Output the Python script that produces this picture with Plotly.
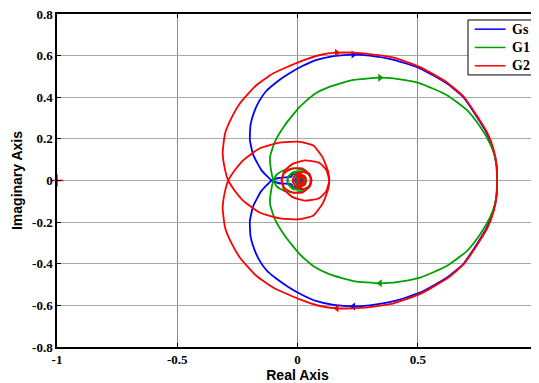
import plotly.graph_objects as go

# ---------------- data ----------------
# Upper-starting branch of each Nyquist curve (real, imag); the other
# branch is its complex conjugate (mirror about the real axis).
gs_re = [0.83, 0.828, 0.814, 0.787, 0.745, 0.69, 0.62, 0.509, 0.40, 0.30, 0.232, 0.15, 0.08, 0.02,
         -0.04, -0.09, -0.13, -0.16, -0.18, -0.195, -0.198, -0.184, -0.15, -0.107,
         -0.08, -0.04, -0.025, -0.02, 0.0, 0.02, 0.028, 0.02, 0.0, -0.01, 0.0, 0.015, 0.01]
gs_im = [0.0, 0.066, 0.147, 0.227, 0.307, 0.40, 0.467, 0.539, 0.58, 0.60, 0.605, 0.598, 0.58, 0.55,
         0.51, 0.47, 0.43, 0.38, 0.33, 0.27, 0.195, 0.123, 0.05, 0.0,
         -0.012, -0.016, -0.018, -0.03, -0.03, -0.02, 0.0, 0.02, 0.022, 0.0, -0.012, -0.005, 0.008]

g1_re = [0.83, 0.828, 0.821, 0.80, 0.759, 0.704, 0.62, 0.509, 0.42, 0.343, 0.232, 0.135, 0.07, 0.01,
         -0.052, -0.094, -0.114, -0.11, -0.1,
         -0.085, -0.055, -0.01, 0.035, 0.055, 0.05, 0.02, -0.02, -0.04, -0.04, -0.02, 0.01, 0.03,
         0.03, 0.015, 0.0, -0.005, 0.005, 0.015]
g1_im = [0.0, 0.06, 0.114, 0.179, 0.259, 0.339, 0.411, 0.467, 0.487, 0.494, 0.483, 0.451, 0.415, 0.355,
         0.267, 0.186, 0.114, 0.05, 0.0,
         -0.03, -0.05, -0.058, -0.045, -0.01, 0.025, 0.045, 0.04, 0.015, -0.015, -0.035, -0.035, -0.015,
         0.01, 0.025, 0.02, 0.0, -0.015, -0.005]

g2_re = [0.83, 0.829, 0.816, 0.79, 0.748, 0.693, 0.623, 0.51, 0.40, 0.274, 0.163, 0.094, 0.01,
         -0.1, -0.17, -0.239, -0.275, -0.301, -0.311, -0.301, -0.288,
         -0.26, -0.225, -0.156, -0.073, 0.01, 0.066, 0.105, 0.128, 0.132,
         0.12, 0.09, 0.03, -0.02, -0.055, -0.066, -0.055, -0.02, 0.02, 0.05, 0.058,
         0.05, 0.025, 0.0, -0.015, -0.02, -0.01, 0.01, 0.03, 0.035, 0.03, 0.01, 0.0, 0.005, 0.02, 0.025, 0.015]
g2_im = [0.0, 0.066, 0.147, 0.227, 0.307, 0.40, 0.47, 0.545, 0.59, 0.611, 0.614, 0.603, 0.571,
         0.515, 0.459, 0.371, 0.3, 0.227, 0.131, 0.05, 0.0,
         -0.05, -0.098, -0.155, -0.182, -0.186, -0.168, -0.11, -0.04, 0.0,
         0.05, 0.085, 0.097, 0.08, 0.045, 0.0, -0.035, -0.058, -0.058, -0.03, 0.0,
         0.03, 0.04, 0.035, 0.015, 0.0, -0.025, -0.03, -0.02, 0.0, 0.02, 0.025, 0.01, -0.01, -0.015, 0.0, 0.012]

# index (in each branch) where the direction arrow sits: (upper, lower)
gs_arrow_idx = (10, 10)
g1_arrow_idx = (9, 9)
g2_arrow_idx = (10, 10)

critical_re = [-1.0]
critical_im = [0.0]

series_names = ["Gs", "G1", "G2"]
series_colors = ["#0000ff", "#00a000", "#ff0000"]

x_ticks = [-1, -0.5, 0, 0.5, 1]
x_ticktext = ["-1", "-0.5", "0", "0.5", "1"]
y_ticks = [-0.8, -0.6, -0.4, -0.2, 0, 0.2, 0.4, 0.6, 0.8]
y_ticktext = ["-0.8", "-0.6", "-0.4", "-0.2", "0", "0.2", "0.4", "0.6", "0.8"]

# ---------------- figure ----------------
fig = go.Figure()

curves = [(gs_re, gs_im, gs_arrow_idx), (g1_re, g1_im, g1_arrow_idx), (g2_re, g2_im, g2_arrow_idx)]

for (re, im, (au, al)), name, col in zip(curves, series_names, series_colors):
    low_im = [-v for v in im]
    fig.add_trace(go.Scatter(x=re, y=im, mode="lines", name=name, showlegend=False,
                             line=dict(color=col, width=1.8, shape="spline", smoothing=0.5)))
    fig.add_trace(go.Scatter(x=re, y=low_im, mode="lines", showlegend=False,
                             line=dict(color=col, width=1.8, shape="spline", smoothing=0.5)))
    fig.add_trace(go.Scatter(x=[re[au]], y=[im[au]], mode="markers", showlegend=False,
                             marker=dict(symbol="triangle-right", size=7, color=col)))
    fig.add_trace(go.Scatter(x=[re[al]], y=[low_im[al]], mode="markers", showlegend=False,
                             marker=dict(symbol="triangle-left", size=7, color=col)))

fig.add_trace(go.Scatter(x=critical_re, y=critical_im, mode="markers", showlegend=False,
                         cliponaxis=False,
                         marker=dict(symbol="cross-thin", size=9, line=dict(color="#ff0000", width=1.5))))

# ---- MATLAB-style legend box (paper coordinates) ----
leg_x0, leg_x1, leg_y0, leg_y1 = 0.8545, 0.998, 0.817, 0.982
fig.add_shape(type="rect", xref="paper", yref="paper", x0=leg_x0, x1=leg_x1, y0=leg_y0, y1=leg_y1,
              line=dict(color="black", width=1), fillcolor="white", layer="above")
row_h = (leg_y1 - leg_y0) / 3
for k, (name, col) in enumerate(zip(series_names, series_colors)):
    yc = leg_y1 - row_h * (k + 0.5)
    fig.add_shape(type="line", xref="paper", yref="paper", x0=leg_x0 + 0.014, x1=leg_x0 + 0.078,
                  y0=yc, y1=yc, line=dict(color=col, width=1.5), layer="above")
    fig.add_annotation(xref="paper", yref="paper", x=leg_x0 + 0.088, y=yc, text=name,
                       showarrow=False, xanchor="left", yanchor="middle",
                       font=dict(family="Liberation Serif", size=14, color="black", weight="bold"))

tickfont = dict(family="Liberation Serif", size=13, color="black", weight="bold")
titlefont = dict(family="Liberation Sans", size=14, color="black", weight="bold")

# the page body adds an 8 px offset; figure is sized so the plot area lands
# at x 57..538, y 14..347 of the window
fig.update_layout(
    width=531, height=375,
    margin=dict(l=49, r=1, t=6, b=36),
    paper_bgcolor="white", plot_bgcolor="white",
    showlegend=False,
    xaxis=dict(range=[-1, 1], tickvals=x_ticks, ticktext=x_ticktext, tickfont=tickfont,
               showgrid=True, gridcolor="#8c8c8c", gridwidth=1, zeroline=False,
               showline=True, linecolor="black", linewidth=1.5, mirror="ticks",
               ticks="inside", ticklen=4, tickcolor="black", ticklabeloverflow="allow",
               title=dict(text="Real Axis", font=titlefont, standoff=2), automargin=False),
    yaxis=dict(range=[-0.8, 0.8], tickvals=y_ticks, ticktext=y_ticktext, tickfont=tickfont,
               showgrid=True, gridcolor="#a8a8a8", gridwidth=1, zeroline=False,
               showline=True, linecolor="black", linewidth=1.5, mirror="ticks",
               ticks="inside", ticklen=4, tickcolor="black", ticklabeloverflow="allow",
               title=dict(text="Imaginary Axis", font=titlefont, standoff=6), automargin=False),
)

fig.write_html("out.html")
